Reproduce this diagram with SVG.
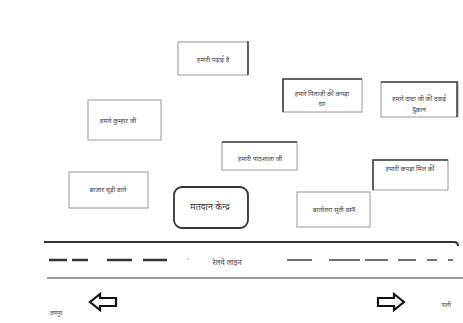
<svg xmlns="http://www.w3.org/2000/svg" width="463" height="323" viewBox="0 0 463 323">
<style>
.box{fill:#fff;stroke:#9a9a9a;stroke-width:1}
.dk{fill:none;stroke:#444;stroke-width:1.6}
.t{font-family:"Noto Sans","Noto Sans Devanagari",sans-serif;font-size:6.5px;fill:#444;text-anchor:middle}
.tb{font-family:"Noto Sans","Noto Sans Devanagari",sans-serif;font-size:9px;fill:#333;text-anchor:middle}
.rail{stroke:#333;fill:none}
.arr{fill:#fff;stroke:#111;stroke-width:2.2;stroke-linejoin:miter}
</style>
<rect width="463" height="323" fill="#fff"/>
<g id="n1">
<rect class="box" x="178" y="42" width="70" height="33"/>
<path class="dk" d="M248 41V75"/>
<text class="t" x="213" y="62">हमारी पढ़ाई है</text>
</g>
<g id="n2">
<rect class="box" x="283" y="79" width="79" height="33"/>
<path class="dk" d="M283 112V79H362"/>
<text class="t" x="322" y="96">हमारे पिताजी की कपड़ा</text>
<text class="t" x="322" y="106">घर</text>
</g>
<g id="n3">
<rect class="box" x="381" y="82" width="77" height="35"/>
<path class="dk" d="M381 82H457V117"/>
<text class="t" x="419" y="101">हमारे दादा जी की दवाई</text>
<text class="t" x="419" y="112">दुकान</text>
</g>
<g id="n4">
<rect class="box" x="88" y="100" width="73" height="40"/>
<text class="t" x="118" y="123">हमारे कुम्हार जी</text>
</g>
<g id="n5">
<rect class="box" x="222" y="142" width="75" height="28"/>
<path class="dk" d="M222 142H297"/>
<text class="t" x="260" y="161">हमारी पाठशाला जी</text>
</g>
<g id="n6">
<rect class="box" x="373" y="160" width="75" height="30"/>
<path class="dk" d="M373 190V160H448"/>
<text class="t" x="410" y="171">हमारी कपड़ा मिल की</text>
</g>
<g id="n7">
<rect class="box" x="69" y="172" width="79" height="36"/>
<text class="t" x="108" y="192">बाजार चूड़ी वाले</text>
</g>
<g id="n8">
<rect x="174" y="187" width="74" height="41" rx="8" fill="#fff" stroke="#333" stroke-width="1.8"/>
<text class="tb" x="210" y="210">मतदान केन्द्र</text>
</g>
<g id="n9">
<rect class="box" x="297" y="192" width="73" height="35"/>
<text class="t" x="334" y="212">बालोतरा सूती वस्त्र</text>
</g>
<g id="railway">
<path class="rail" stroke-width="2" d="M44 242H454Q458 242 458 246"/>
<path class="rail" stroke-width="1" stroke="#888" d="M47 278H463"/>
<g stroke="#333" stroke-width="2.4">
<path d="M49 260H67M72 260H88M107 260H132M143 260H167"/>
</g>
<circle cx="188" cy="259" r="0.6" fill="#555"/>
<g stroke="#444" stroke-width="1.3">
<path d="M287 260H312M329 260H360M365 260H388M398 260H416M427 260H437M448 260H453"/>
</g>
<text class="t" x="227" y="265" style="font-size:7.5px">रेलवे लाइन</text>
</g>
<g id="directions">
<path class="arr" d="M90 302L100 294V298H116V306H100V310Z"/>
<path class="arr" d="M404 302L394 294V298H378V306H394V310Z"/>
<text class="t" x="56" y="315" style="font-size:5.5px">जयपुर</text>
<text class="t" x="446" y="307" style="font-size:5.5px">पाली</text>
</g>
</svg>
